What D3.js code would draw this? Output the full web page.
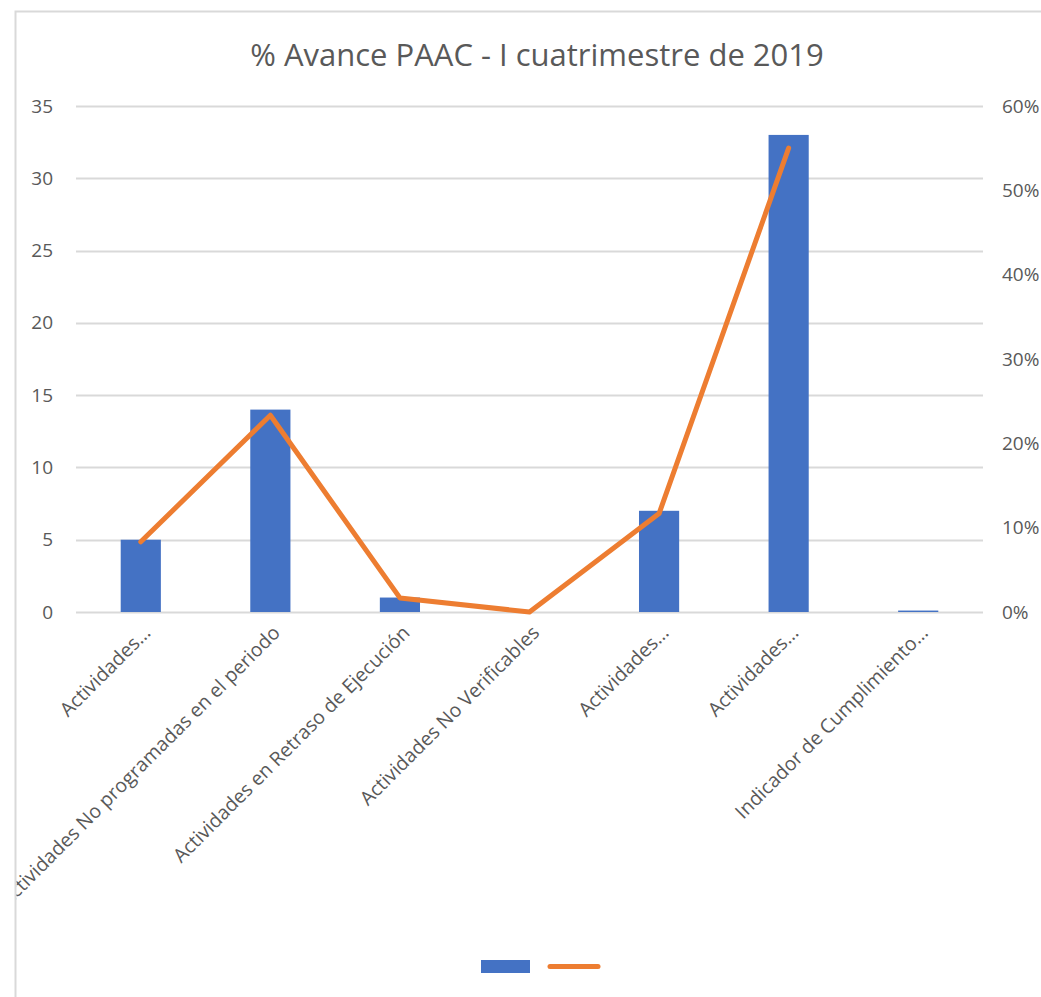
<!DOCTYPE html>
<html>
<head>
<meta charset="utf-8">
<script src="https://cdn.jsdelivr.net/npm/d3@7"></script>
<style>
  body { margin: 0; background: #fff; }
  text { font-family: "Open Sans", sans-serif; }
</style>
</head>
<body>
<div id="chart"></div>
<script>
var categories = [
  "Actividades…",
  "Actividades No programadas en el periodo",
  "Actividades en Retraso de Ejecución",
  "Actividades No Verificables",
  "Actividades…",
  "Actividades…",
  "Indicador de Cumplimiento…"
];
var counts = [5, 14, 1, 0, 7, 33, 0.1];
var percents = [0.0833, 0.2333, 0.0167, 0, 0.1167, 0.55, null];
var leftTicks = [0, 5, 10, 15, 20, 25, 30, 35];
var rightTicks = [0, 0.1, 0.2, 0.3, 0.4, 0.5, 0.6];

var width = 1041, height = 997;
var margin = {top: 106, left: 76, right: 58, bottom: 385};
var plotW = width - margin.left - margin.right;
var plotH = height - margin.top - margin.bottom;

var svg = d3.select("#chart").append("svg")
    .attr("width", width)
    .attr("height", height);

// the chart area clips its content, like the spreadsheet frame does
svg.append("clipPath")
    .attr("id", "frame-clip")
    .append("rect")
    .attr("x", 16.5).attr("y", 12.5)
    .attr("width", 1100).attr("height", 1100);

// chart frame
svg.append("rect")
    .attr("x", 15.5).attr("y", 11.5)
    .attr("width", 1100).attr("height", 1100)
    .attr("fill", "#fff")
    .attr("stroke", "#d9d9d9")
    .attr("stroke-width", 2);

var root = svg.append("g").attr("clip-path", "url(#frame-clip)");

root.append("text")
    .attr("x", 537).attr("y", 66)
    .attr("text-anchor", "middle")
    .attr("font-size", 31)
    .attr("fill", "#595959")
    .text("% Avance PAAC - I cuatrimestre de 2019");

var g = root.append("g")
    .attr("transform", "translate(" + margin.left + "," + margin.top + ")");

var x = d3.scaleBand()
    .domain(categories.map(function(d, i) { return i; }))
    .range([0, plotW])
    .paddingInner(0.69)
    .paddingOuter(0.345);

var xc = d3.scaleBand()
    .domain(categories.map(function(d, i) { return i; }))
    .range([0, plotW]);

var yL = d3.scaleLinear().domain([0, 35]).range([plotH, 0]);
var yR = d3.scaleLinear().domain([0, 0.6]).range([plotH, 0]);

// gridlines
g.selectAll("line.grid")
    .data(leftTicks)
    .enter()
    .append("line")
    .attr("class", "grid")
    .attr("x1", 0).attr("x2", plotW)
    .attr("y1", function(d) { return Math.round(yL(d)) + 0.5; })
    .attr("y2", function(d) { return Math.round(yL(d)) + 0.5; })
    .attr("stroke", "#d9d9d9")
    .attr("stroke-width", 2);

// left axis
var axL = g.append("g")
    .call(d3.axisLeft(yL).tickValues(leftTicks).tickSize(0).tickPadding(23));
axL.select(".domain").remove();
axL.selectAll("text")
    .attr("font-size", 19)
    .attr("fill", "#595959")
    .attr("font-family", "'Open Sans', sans-serif");

// right axis
var axR = g.append("g")
    .attr("transform", "translate(" + plotW + ",0)")
    .call(d3.axisRight(yR).tickValues(rightTicks).tickSize(0).tickPadding(19)
      .tickFormat(d3.format(".0%")));
axR.select(".domain").remove();
axR.selectAll("text")
    .attr("font-size", 19)
    .attr("fill", "#595959")
    .attr("font-family", "'Open Sans', sans-serif");

// bars
g.selectAll("rect.bar")
    .data(counts)
    .enter()
    .append("rect")
    .attr("class", "bar")
    .attr("x", function(d, i) { return x(i); })
    .attr("width", x.bandwidth())
    .attr("y", function(d) { return yL(d); })
    .attr("height", function(d) { return plotH - yL(d); })
    .attr("fill", "#4472c4");

// line
var line = d3.line()
    .defined(function(d) { return d != null; })
    .x(function(d, i) { return xc(i) + xc.bandwidth() / 2; })
    .y(function(d) { return yR(d); });

g.append("path")
    .datum(percents)
    .attr("d", line)
    .attr("fill", "none")
    .attr("stroke", "#ed7d31")
    .attr("stroke-width", 5)
    .attr("stroke-linejoin", "round")
    .attr("stroke-linecap", "round");

// category labels
g.selectAll("text.cat")
    .data(categories)
    .enter()
    .append("text")
    .attr("class", "cat")
    .attr("transform", function(d, i) {
        var cx = xc(i) + xc.bandwidth() / 2 + 11;
        return "translate(" + cx + "," + (plotH + 22) + ") rotate(-45)";
    })
    .attr("text-anchor", "end")
    .attr("font-size", 19.5)
    .attr("fill", "#595959")
    .text(function(d) { return d; });

// legend
var leg = root.append("g");
leg.append("rect")
    .attr("x", 481).attr("y", 960)
    .attr("width", 49).attr("height", 13)
    .attr("fill", "#4472c4");
leg.append("line")
    .attr("x1", 550).attr("x2", 598)
    .attr("y1", 966.5).attr("y2", 966.5)
    .attr("stroke", "#ed7d31")
    .attr("stroke-width", 5)
    .attr("stroke-linecap", "round");
</script>
</body>
</html>
